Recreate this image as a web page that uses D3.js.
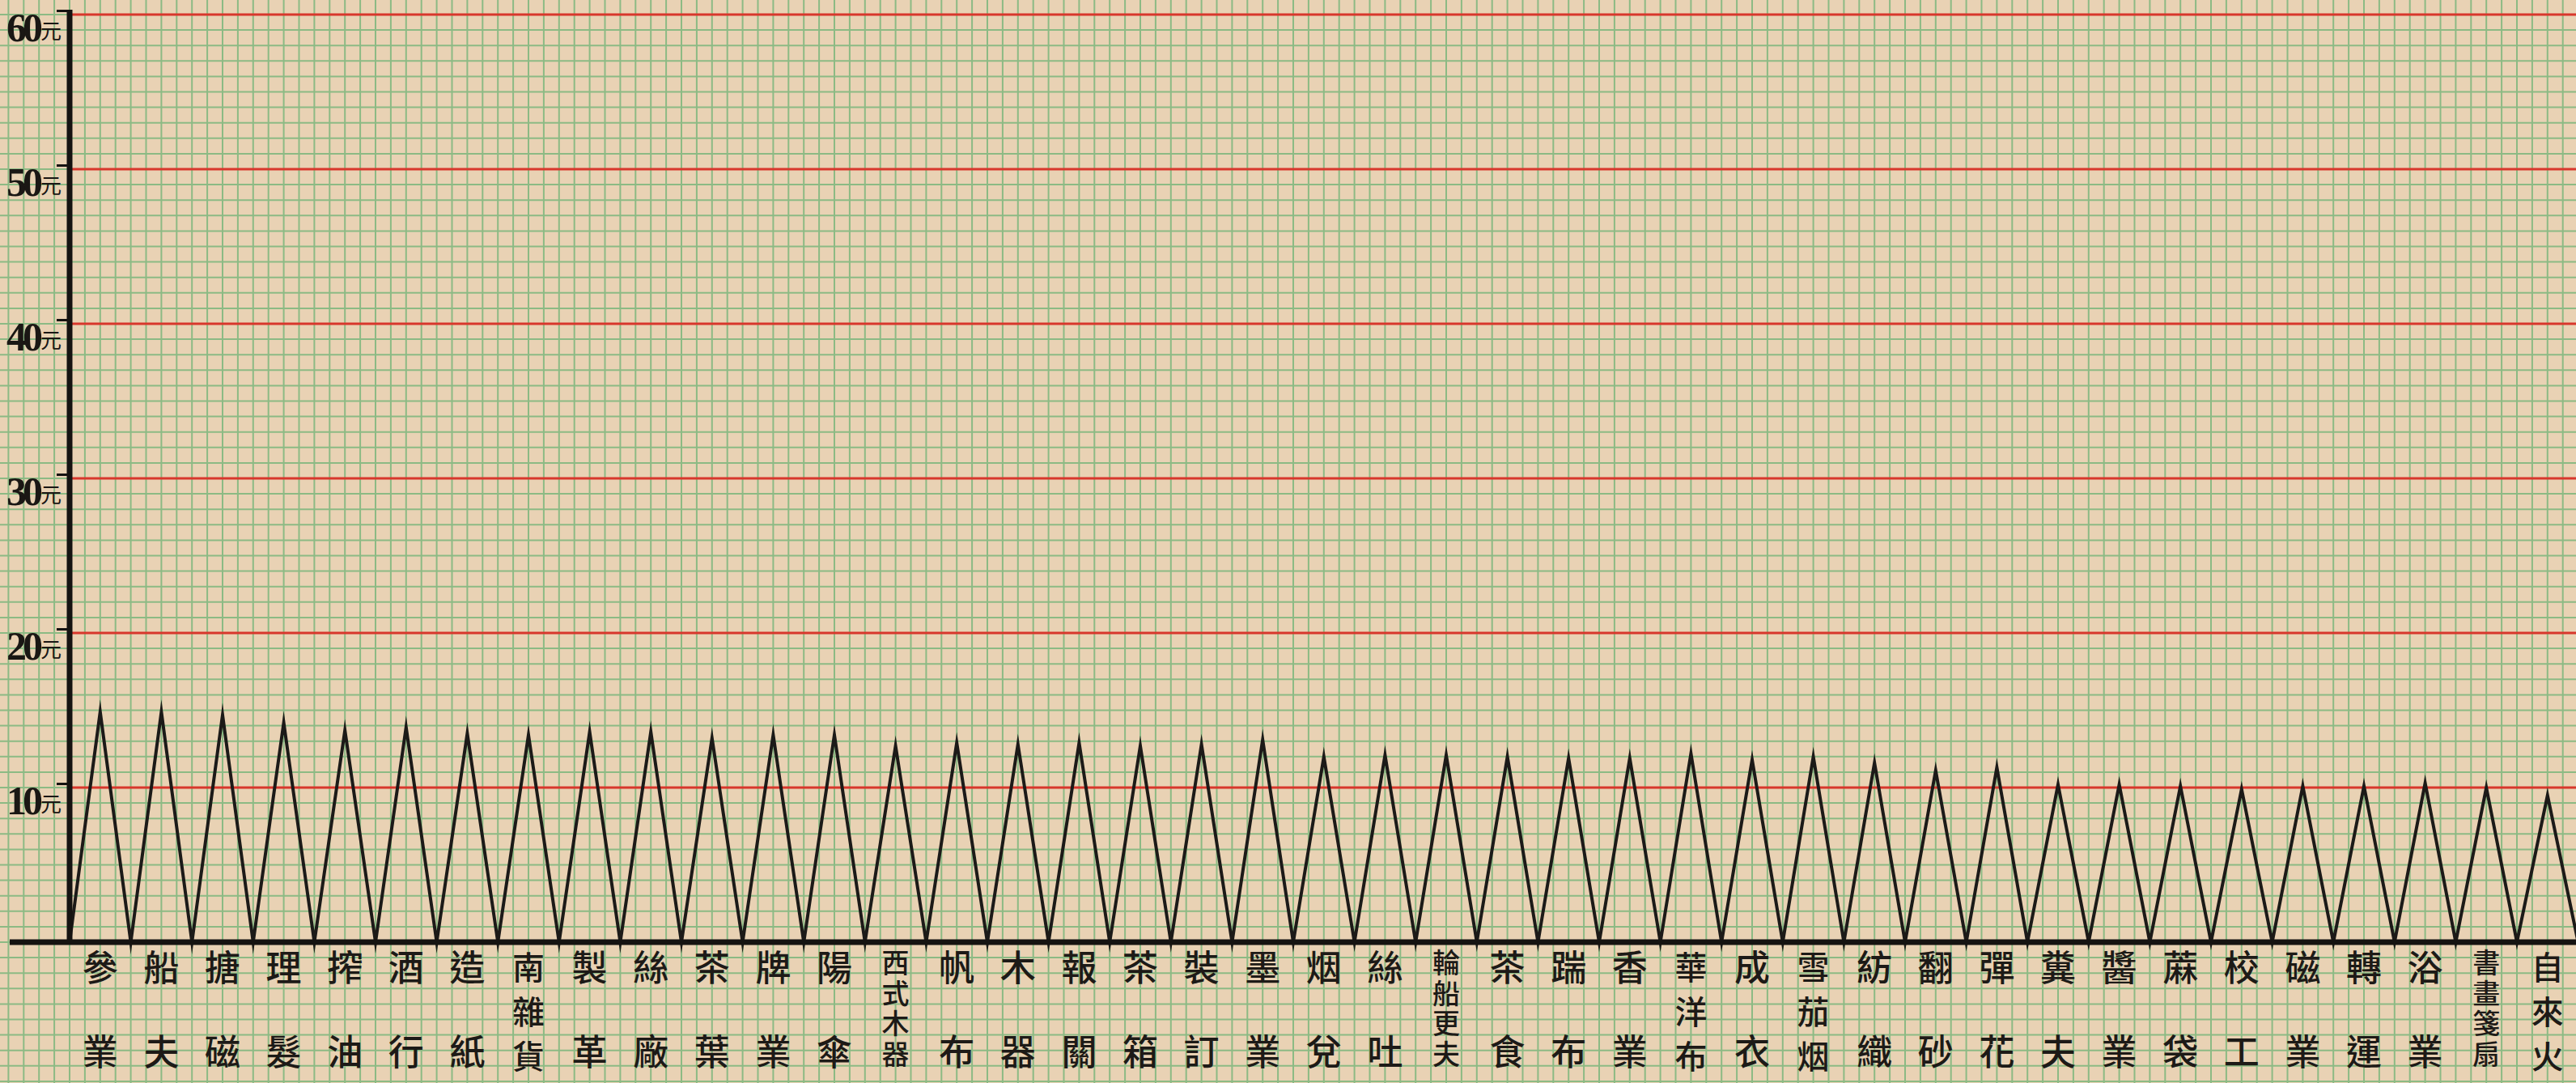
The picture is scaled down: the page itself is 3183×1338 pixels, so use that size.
<!DOCTYPE html>
<html>
<head>
<meta charset="utf-8">
<script src="https://cdn.jsdelivr.net/npm/d3@7"></script>
<style>
  html, body { margin: 0; padding: 0; background: #ead4b6; overflow: hidden; }
</style>
</head>
<body>
<div id="chart"></div>
<script>
// trades along the bottom, left to right
const categories = [
    "參業", "船夫", "搪磁", "理髮", "搾油", "酒行", "造紙", "南雜貨", "製革", "絲廠",
    "茶葉", "牌業", "陽傘", "西式木器", "帆布", "木器", "報關", "茶箱", "裝訂", "墨業",
    "烟兌", "絲吐", "輪船更夫", "茶食", "踹布", "香業", "華洋布", "成衣", "雪茄烟", "紡織",
    "翻砂", "彈花", "糞夫", "醬業", "蔴袋", "校工", "磁業", "轉運", "浴業", "書畫箋扇",
    "自來火"
];

// monthly wage in 元
const wages = [
    14.9, 14.9, 14.7, 14.2, 13.7, 13.9, 13.5, 13.4, 13.6, 13.6,
    13.2, 13.4, 13.4, 12.7, 12.9, 12.8, 12.9, 12.7, 12.8, 13.1,
    12.0, 12.1, 12.1, 12.0, 11.9, 11.9, 12.2, 11.8, 12.0, 11.6,
    11.1, 11.3, 10.2, 10.2, 10.1, 9.9, 10.1, 10.1, 10.3, 10.0,
    9.5
];

const yTicks = [10, 20, 30, 40, 50, 60];
const yTickLabels = ["10", "20", "30", "40", "50", "60"];
const unit = "元";

function drawChart() {

    const width = 3183;
    const height = 1338;
    const axisX = 86;
    const baseY = 1164;

    const x = d3.scaleLinear()
        .domain([0, categories.length])
        .range([axisX, axisX + 75.6 * categories.length]);

    const y = d3.scaleLinear()
        .domain([0, 60])
        .range([baseY, 18]);

    const svg = d3.select("#chart")
        .append("svg")
        .attr("width", width)
        .attr("height", height);

    svg.append("rect")
        .attr("width", width)
        .attr("height", height)
        .attr("fill", "#e9d2b4");

    // graph paper: 4 squares per trade, 1 square per 元
    const gridX = d3.range(-4, categories.length * 4 + 2).map(k => x(k / 4));
    const gridY = d3.range(-10, 62);

    const grid = svg.append("g")
        .attr("stroke", "#8cba84")
        .attr("stroke-width", 2);

    grid.selectAll("line.gx")
        .data(gridX)
        .enter()
        .append("line")
        .attr("class", "gx")
        .attr("x1", d => d)
        .attr("x2", d => d)
        .attr("y1", 0)
        .attr("y2", height);

    grid.selectAll("line.gy")
        .data(gridY)
        .enter()
        .append("line")
        .attr("class", "gy")
        .attr("x1", 0)
        .attr("x2", width)
        .attr("y1", d => y(d))
        .attr("y2", d => y(d));

    // red lines every 10 元
    svg.append("g")
        .selectAll("line")
        .data(yTicks)
        .enter()
        .append("line")
        .attr("x1", axisX)
        .attr("x2", width)
        .attr("y1", d => y(d))
        .attr("y2", d => y(d))
        .attr("stroke", "#d8372c")
        .attr("stroke-width", 3);

    // zigzag: up to each wage, back down to zero between trades
    const points = [[0, 0]];
    wages.forEach((w, i) => {
        points.push([i + 0.5, w]);
        points.push([i + 1, 0]);
    });

    const line = d3.line()
        .x(d => x(d[0]))
        .y(d => y(d[1]))
        .curve(d3.curveLinear);

    svg.append("path")
        .datum(points)
        .attr("d", line)
        .attr("fill", "none")
        .attr("stroke", "#1c1a18")
        .attr("stroke-width", 4)
        .attr("stroke-linejoin", "miter")
        .attr("stroke-miterlimit", 20);

    // heavy axes
    svg.append("line")
        .attr("x1", axisX)
        .attr("x2", axisX)
        .attr("y1", 12)
        .attr("y2", baseY + 3)
        .attr("stroke", "#151311")
        .attr("stroke-width", 7);

    svg.append("line")
        .attr("x1", 12)
        .attr("x2", width)
        .attr("y1", baseY)
        .attr("y2", baseY)
        .attr("stroke", "#151311")
        .attr("stroke-width", 7);

    // y ticks and labels
    const yAxis = d3.axisLeft(y)
        .tickValues(yTicks)
        .tickSize(14)
        .tickFormat("");

    const yg = svg.append("g")
        .attr("transform", `translate(${axisX - 2},-5)`)
        .call(yAxis);

    yg.select(".domain").remove();
    yg.selectAll(".tick line")
        .attr("stroke", "#151311")
        .attr("stroke-width", 3);

    const labels = svg.append("g")
        .selectAll("text")
        .data(yTicks)
        .enter()
        .append("text")
        .attr("x", 8)
        .attr("y", d => y(d) + 33)
        .attr("fill", "#1a1714");

    labels.append("tspan")
        .text((d, i) => yTickLabels[i])
        .style("font-family", "'Liberation Serif', 'DejaVu Serif', serif")
        .style("font-weight", "bold")
        .style("font-size", "50px")
        .style("letter-spacing", "-5px");

    labels.append("tspan")
        .text(unit)
        .attr("dx", 2)
        .attr("dy", -3)
        .style("font-family", "'Noto Sans CJK TC', sans-serif")
        .style("font-size", "26px");

    // trade names under each peak, read top to bottom
    const layouts = {
        2: { size: 44, rows: [1193, 1297] },
        3: { size: 40, rows: [1193, 1248, 1303] },
        4: { size: 34, top: 1189, step: 37.7 }
    };

    const names = svg.append("g")
        .style("font-family", "'Noto Sans CJK TC', 'Noto Sans CJK SC', sans-serif")
        .style("font-weight", "500")
        .attr("fill", "#1d1a17");

    categories.forEach((name, i) => {
        const chars = Array.from(name);
        const lay = layouts[chars.length];
        if (chars.length === 4) {
            // tightly packed four-character names: one vertical text
            names.append("text")
                .attr("x", x(i + 0.5))
                .attr("y", lay.top - lay.size / 2)
                .attr("writing-mode", "vertical-rl")
                .style("text-orientation", "upright")
                .style("font-size", lay.size + "px")
                .style("letter-spacing", (lay.step - lay.size) + "px")
                .text(name);
        } else {
            chars.forEach((ch, j) => {
                names.append("text")
                    .attr("x", x(i + 0.5))
                    .attr("y", lay.rows[j])
                    .attr("text-anchor", "middle")
                    .attr("dominant-baseline", "central")
                    .style("font-size", lay.size + "px")
                    .text(ch);
            });
        }
    });
}

drawChart();
</script>
</body>
</html>
